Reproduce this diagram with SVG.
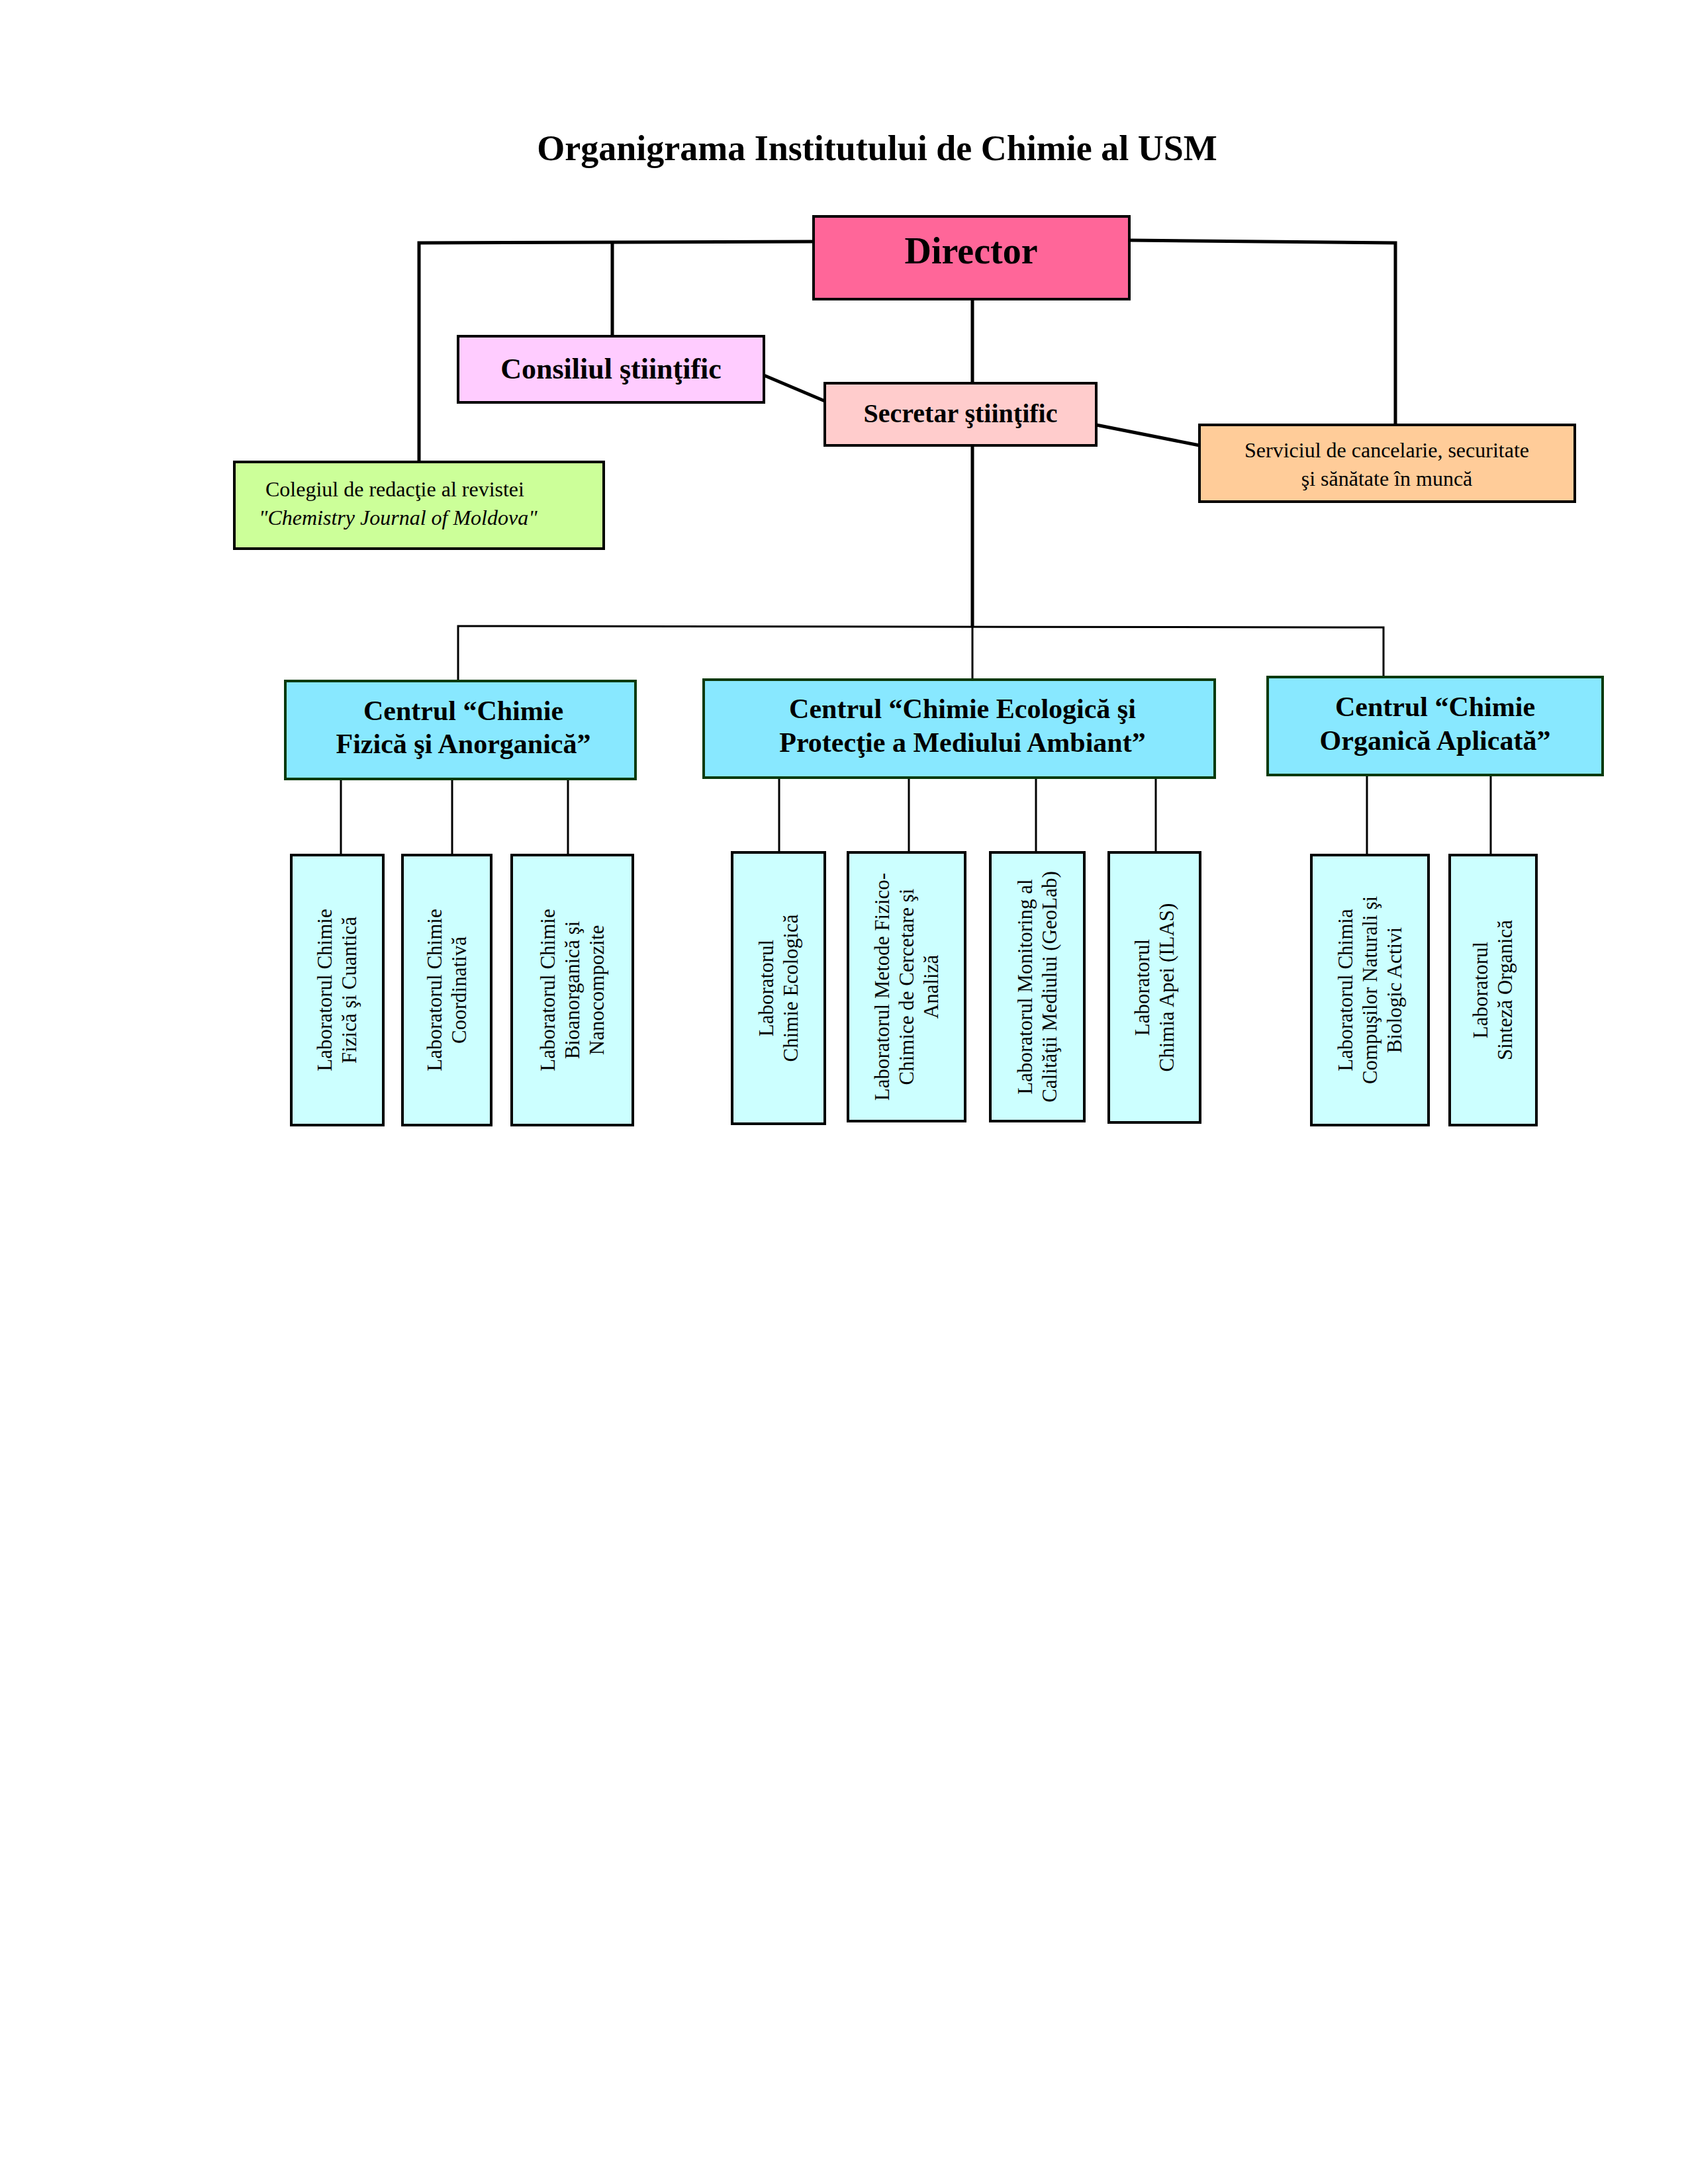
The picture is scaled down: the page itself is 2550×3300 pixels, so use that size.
<svg xmlns="http://www.w3.org/2000/svg" width="2550" height="3300" viewBox="0 0 2550 3300">
<style>
text{font-family:"Liberation Serif","Times New Roman",serif;fill:#000}
.b{stroke:#000;stroke-width:4}
.c{fill:#88e8ff;stroke:#0a3a0a;stroke-width:4}
.l{fill:#ccffff;stroke:#000;stroke-width:4}
.h{font-weight:bold;font-size:42px;text-anchor:middle}
.t{font-size:31px;text-anchor:middle}
.w{fill:none;stroke:#000;stroke-width:5}
.n{fill:none;stroke:#000;stroke-width:3}
</style>
<rect width="2550" height="3300" fill="#fff"/>
<text x="1325" y="242" font-size="54" font-weight="bold" text-anchor="middle">Organigrama Institutului de Chimie al USM</text>
<g id="connectors">
<polyline class="w" points="1229,365 633,367 633,698"/>
<line class="w" x1="925" y1="366" x2="925" y2="508"/>
<polyline class="w" points="1706,363 2108,367 2108,642"/>
<line class="w" x1="1469" y1="452" x2="1469" y2="579"/>
<line class="w" x1="1154" y1="567" x2="1246" y2="606"/>
<line class="w" x1="1656" y1="642" x2="1812" y2="673"/>
<line class="w" x1="1469" y1="673" x2="1469" y2="948"/>
<polyline class="n" points="692,1027 692,946 2090,948 2090,1023"/>
<line class="n" x1="1469" y1="946" x2="1469" y2="1027"/>
<line class="n" x1="515" y1="1177" x2="515" y2="1292"/>
<line class="n" x1="683" y1="1177" x2="683" y2="1292"/>
<line class="n" x1="858" y1="1177" x2="858" y2="1292"/>
<line class="n" x1="1177" y1="1175" x2="1177" y2="1288"/>
<line class="n" x1="1373" y1="1175" x2="1373" y2="1288"/>
<line class="n" x1="1565" y1="1175" x2="1565" y2="1288"/>
<line class="n" x1="1746" y1="1175" x2="1746" y2="1288"/>
<line class="n" x1="2065" y1="1171" x2="2065" y2="1292"/>
<line class="n" x1="2252" y1="1171" x2="2252" y2="1292"/>
</g>
<g id="director"><rect class="b" x="1229" y="327" width="477" height="125" fill="#ff6699"/><text x="1467" y="398" font-size="56" font-weight="bold" text-anchor="middle">Director</text></g>
<g id="consiliul"><rect class="b" x="692" y="508" width="462" height="100" fill="#ffccff"/><text x="923" y="572" font-size="44" font-weight="bold" text-anchor="middle">Consiliul ştiinţific</text></g>
<g id="secretar"><rect class="b" x="1246" y="579" width="410" height="94" fill="#ffcccc"/><text x="1451" y="638" font-size="40" font-weight="bold" text-anchor="middle">Secretar ştiinţific</text></g>
<g id="colegiul"><rect class="b" x="354" y="698" width="558" height="131" fill="#ccff99"/><text x="401" y="750" font-size="32">Colegiul de redacţie al revistei</text><text x="391" y="793" font-size="32" font-style="italic">"Chemistry Journal of Moldova"</text></g>
<g id="serviciul"><rect class="b" x="1812" y="642" width="567" height="116" fill="#ffcc99"/><text x="2095" y="691" font-size="32" text-anchor="middle">Serviciul de cancelarie, securitate</text><text x="2095" y="734" font-size="32" text-anchor="middle">şi sănătate în muncă</text></g>
<g id="centru1"><rect class="c" x="431" y="1029" width="529" height="148"/><text class="h" x="700" y="1088">Centrul “Chimie</text><text class="h" x="700" y="1138">Fizică şi Anorganică”</text></g>
<g id="centru2"><rect class="c" x="1063" y="1027" width="772" height="148"/><text class="h" x="1454" y="1085">Centrul “Chimie Ecologică şi</text><text class="h" x="1454" y="1136">Protecţie a Mediului Ambiant”</text></g>
<g id="centru3"><rect class="c" x="1915" y="1023" width="506" height="148"/><text class="h" x="2168" y="1082">Centrul “Chimie</text><text class="h" x="2168" y="1133">Organică Aplicată”</text></g>
<g id="lab1"><rect class="l" x="440" y="1292" width="139" height="408"/><g transform="translate(509,1496) rotate(-90)"><text class="t" y="-8">Laboratorul  Chimie</text><text class="t" y="29">Fizică şi Cuantică</text></g></g>
<g id="lab2"><rect class="l" x="608" y="1292" width="134" height="408"/><g transform="translate(675,1496) rotate(-90)"><text class="t" y="-8">Laboratorul Chimie</text><text class="t" y="29">Coordinativă</text></g></g>
<g id="lab3"><rect class="l" x="773" y="1292" width="183" height="408"/><g transform="translate(864,1496) rotate(-90)"><text class="t" y="-26">Laboratorul  Chimie</text><text class="t" y="11">Bioanorganică şi</text><text class="t" y="48">Nanocompozite</text></g></g>
<g id="lab4"><rect class="l" x="1106" y="1288" width="140" height="410"/><g transform="translate(1176,1493) rotate(-90)"><text class="t" y="-8">Laboratorul</text><text class="t" y="29">Chimie Ecologică</text></g></g>
<g id="lab5"><rect class="l" x="1281" y="1288" width="177" height="406"/><g transform="translate(1369,1491) rotate(-90)"><text class="t" y="-26">Laboratorul Metode Fizico-</text><text class="t" y="11">Chimice de Cercetare şi</text><text class="t" y="48">Analiză</text></g></g>
<g id="lab6"><rect class="l" x="1496" y="1288" width="142" height="406"/><g transform="translate(1567,1491) rotate(-90)"><text class="t" y="-8">Laboratorul Monitoring al</text><text class="t" y="29">Calităţii Mediului (GeoLab)</text></g></g>
<g id="lab7"><rect class="l" x="1675" y="1288" width="138" height="408"/><g transform="translate(1744,1492) rotate(-90)"><text class="t" y="-8">Laboratorul</text><text class="t" y="29">Chimia Apei (ILAS)</text></g></g>
<g id="lab8"><rect class="l" x="1981" y="1292" width="177" height="408"/><g transform="translate(2069,1496) rotate(-90)"><text class="t" y="-26">Laboratorul Chimia</text><text class="t" y="11">Compuşilor Naturali şi</text><text class="t" y="48">Biologic Activi</text></g></g>
<g id="lab9"><rect class="l" x="2190" y="1292" width="131" height="408"/><g transform="translate(2255,1496) rotate(-90)"><text class="t" y="-8">Laboratorul</text><text class="t" y="29">Sinteză Organică</text></g></g>
</svg>
